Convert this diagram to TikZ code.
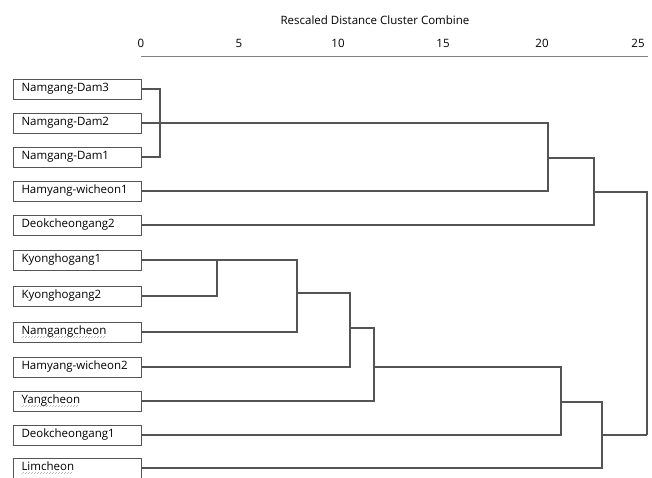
\documentclass[tikz,border=0pt]{standalone}
\usepackage{fontspec}
\setmainfont{Open Sans}
\usepackage{tikz}
\tikzset{>=latex}
\definecolor{linegray}{gray}{0.33}
\tikzset{
    leaf/.style={draw=linegray, line width=1pt, anchor=west, minimum height=20pt,
        text width=112pt, inner xsep=8pt, inner ysep=0pt, align=left,
        font=\fontsize{11.5}{13}\selectfont, text=black},
    link/.style={draw=linegray, line width=1.2pt},
    tick/.style={font=\fontsize{11.5}{13}\selectfont, text=black}
}
\newsavebox{\wavebox}
\newcommand*{\wavy}[1]{\sbox{\wavebox}{#1}\rlap{\textcolor{gray!55}{\raisebox{-3pt}{\leaders\hbox to 3pt{\rule{0.8pt}{0.6pt}\hskip0.7pt\rule[0.8pt]{0.8pt}{0.6pt}\hss}\hskip\wd\wavebox}}}\usebox{\wavebox}}

\begin{document}
\begin{tikzpicture}[x=1pt, y=-1pt]
    \clip(0, 0)rectangle(652, 477);
    \fill[white](0, 0)rectangle(652, 477);
    % scale
    \node[tick](title)at(375, 20){Rescaled Distance Cluster Combine};
    \node[tick](t0)at(141, 43){0};
    \node[tick](t5)at(239, 43){5};
    \node[tick](t10)at(338, 43){10};
    \node[tick](t15)at(443, 43){15};
    \node[tick](t20)at(542, 43){20};
    \node[tick](t25)at(638, 43){25};
    \draw[draw=gray, line width=1pt](141, 56)--(648, 56);
    % leaves
    \node[leaf](d3)at(13, 89){Namgang-Dam3};
    \node[leaf](d2)at(13, 123){Namgang-Dam2};
    \node[leaf](d1)at(13, 157){Namgang-Dam1};
    \node[leaf](h1)at(13, 191){Hamyang-wicheon1};
    \node[leaf](dk2)at(13, 225){Deokcheongang2};
    \node[leaf](k1)at(13, 260){Kyonghogang1};
    \node[leaf](k2)at(13, 296){Kyonghogang2};
    \node[leaf](nc)at(13, 332){\wavy{Namgangcheon}};
    \node[leaf](h2)at(13, 367){Hamyang-wicheon2};
    \node[leaf](yc)at(13, 401){\wavy{Yangcheon}};
    \node[leaf](dk1)at(13, 435){Deokcheongang1};
    \node[leaf](lc)at(13, 468){\wavy{Limcheon}};
    % joins
    \coordinate(m1)at(160, 123);
    \coordinate(m2)at(548, 158);
    \coordinate(m3)at(594, 192);
    \coordinate(m4)at(217, 260);
    \coordinate(m5)at(297, 293);
    \coordinate(m6)at(350, 328);
    \coordinate(m7)at(374, 367);
    \coordinate(m8)at(561, 402);
    \coordinate(m10)at(602, 435);
    \coordinate(root)at(647, 435);
    \draw[link](d3.east)-|(m1)|-(d1.east);
    \draw[link](d2.east)-|(m2)|-(h1.east);
    \draw[link](m2)-|(m3)|-(dk2.east);
    \draw[link](m3)-|(root);
    \draw[link](k2.east)-|(m4);
    \draw[link](k1.east)-|(m5)|-(nc.east);
    \draw[link](m5)-|(m6)|-(h2.east);
    \draw[link](m6)-|(m7)|-(yc.east);
    \draw[link](m7)-|(m8)|-(dk1.east);
    \draw[link](m8)-|(m10)|-(lc.east);
    \draw[link](m10)--(root);
\end{tikzpicture}
\end{document}
